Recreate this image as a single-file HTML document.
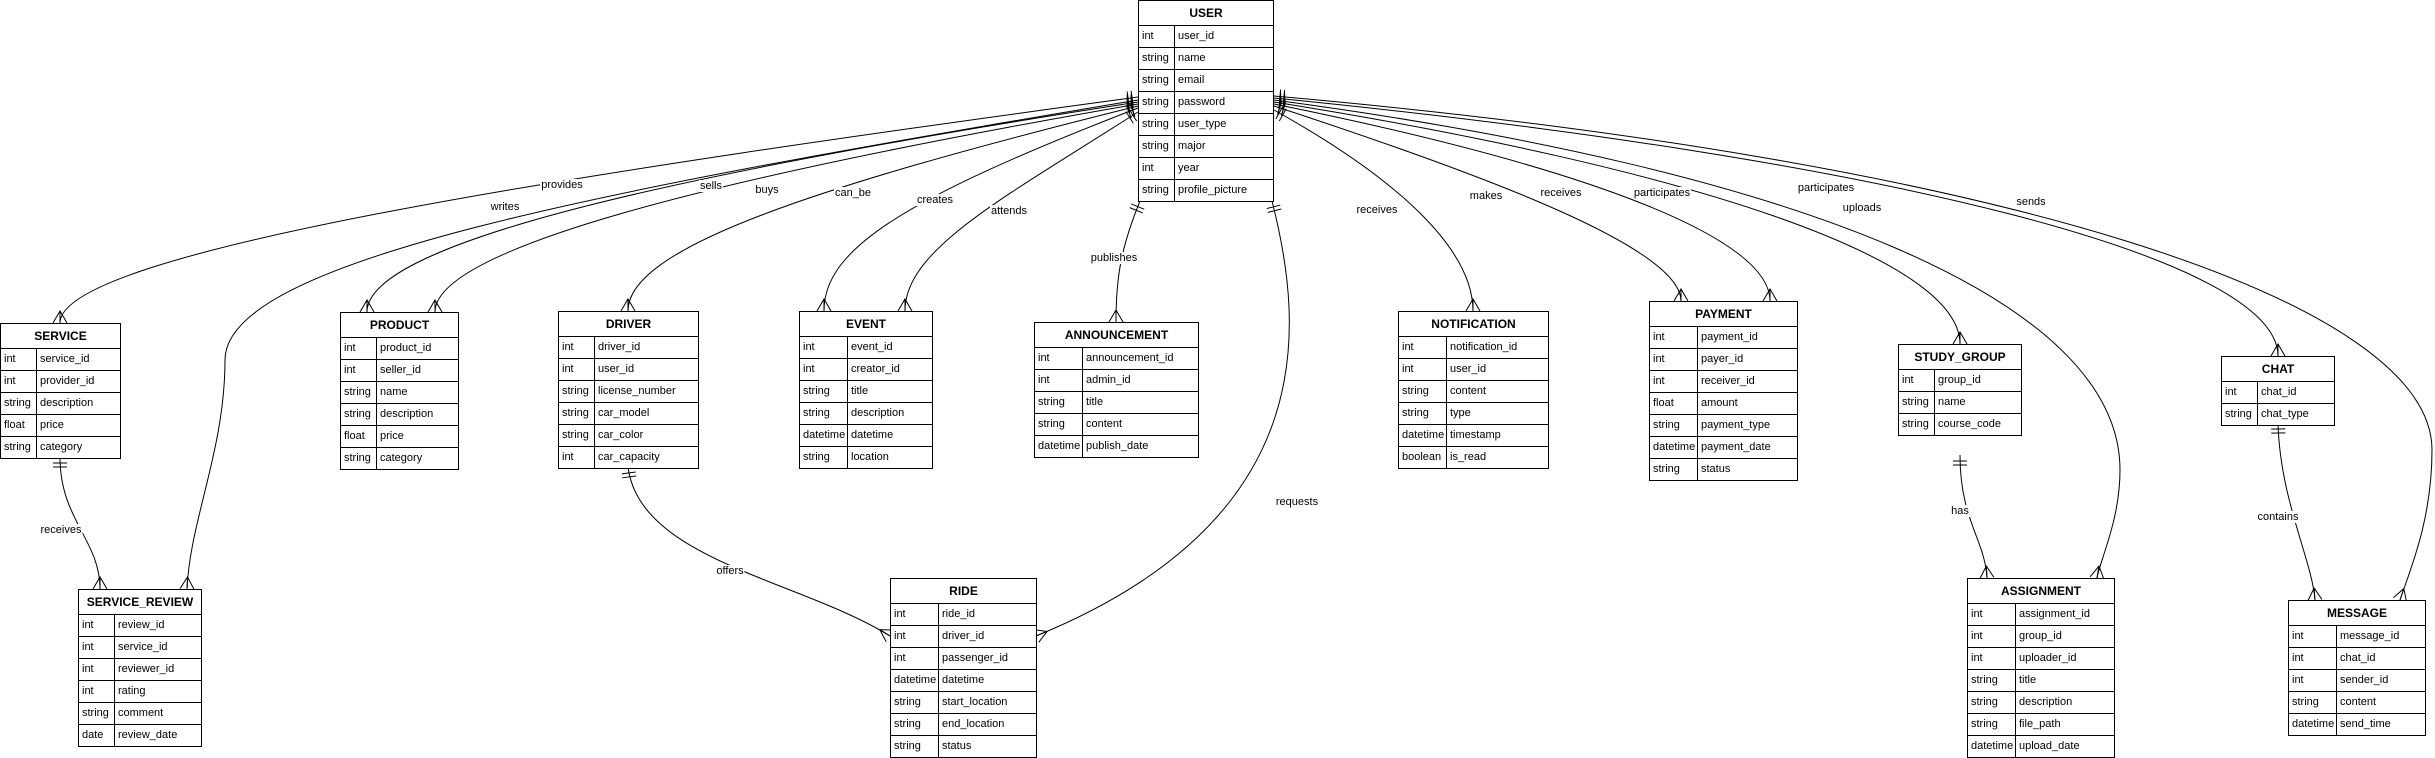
<!DOCTYPE html>
<html><head><meta charset="utf-8"><style>
body{margin:0;width:2435px;height:758px;background:#fff;position:relative;overflow:hidden;font-family:"Liberation Sans",Arial,sans-serif;color:#000}
svg{position:absolute;left:0;top:0}
.t{position:absolute;border:1px solid #000;background:#fff;box-sizing:border-box}
.h{height:24px;line-height:24px;text-align:center;font-weight:bold;font-size:12px;border-bottom:1px solid #000}
.r{height:21px;line-height:21px;border-bottom:1px solid #000;display:flex;font-size:11px;white-space:nowrap}
.r:last-child{border-bottom:none}
.r span{padding-left:3px;overflow:hidden}
.r span:first-child{border-right:1px solid #000;flex:none;box-sizing:border-box}
.a .r span:first-child{width:36px}
.b .r span:first-child{width:48px}
.l{position:absolute;font-size:11px;background:#fff;line-height:12px;transform:translate(-50%,-50%);padding:0 1px}
</style></head><body>
<svg width="2435" height="758" viewBox="0 0 2435 758">
<defs>
<marker id="m" markerUnits="userSpaceOnUse" markerWidth="20" markerHeight="20" viewBox="0 0 20 20" refX="20" refY="10" orient="auto-start-reverse">
<path d="M20,3 L8,10 L20,17 M8,10 L20,10" fill="none" stroke="#000" stroke-width="1"/>
</marker>
<marker id="o" markerUnits="userSpaceOnUse" markerWidth="20" markerHeight="20" viewBox="0 0 20 20" refX="20" refY="10" orient="auto-start-reverse">
<path d="M14,3 L14,17 M10,3 L10,17" fill="none" stroke="#000" stroke-width="1"/>
</marker>
</defs>
<g fill="none" stroke="#000" stroke-width="1">
<path d="M1138,97 C600,170 60,250 60,323" marker-start="url(#o)" marker-end="url(#m)"/>
<path d="M1138,100 C600,190 225,260 225,360 C225,450 190,520 187,589" marker-start="url(#o)" marker-end="url(#m)"/>
<path d="M1138,102 C700,170 367,240 367,312" marker-start="url(#o)" marker-end="url(#m)"/>
<path d="M1138,104 C700,180 435,250 435,312" marker-start="url(#o)" marker-end="url(#m)"/>
<path d="M1138,106 C800,190 628,250 628,311" marker-start="url(#o)" marker-end="url(#m)"/>
<path d="M1138,108 C900,200 824,250 824,311" marker-start="url(#o)" marker-end="url(#m)"/>
<path d="M1138,112 C1000,200 905,250 905,311" marker-start="url(#o)" marker-end="url(#m)"/>
<path d="M1140,201 C1120,250 1116,280 1116,322" marker-start="url(#o)" marker-end="url(#m)"/>
<path d="M1272,201 C1305,330 1320,520 1036,636" marker-start="url(#o)" marker-end="url(#m)"/>
<path d="M628,467 C640,560 800,580 890,636" marker-start="url(#o)" marker-end="url(#m)"/>
<path d="M60,457 C60,520 100,540 100,589" marker-start="url(#o)" marker-end="url(#m)"/>
<path d="M1274,110 C1400,180 1473,250 1473,311" marker-start="url(#o)" marker-end="url(#m)"/>
<path d="M1274,106 C1500,180 1681,250 1681,301" marker-start="url(#o)" marker-end="url(#m)"/>
<path d="M1274,104 C1600,170 1770,240 1770,301" marker-start="url(#o)" marker-end="url(#m)"/>
<path d="M1274,102 C1700,170 1960,260 1960,344" marker-start="url(#o)" marker-end="url(#m)"/>
<path d="M1274,100 C1800,170 2120,300 2120,470 C2120,520 2100,560 2097,578" marker-start="url(#o)" marker-end="url(#m)"/>
<path d="M1274,98 C1900,160 2278,260 2278,356" marker-start="url(#o)" marker-end="url(#m)"/>
<path d="M1274,96 C2000,160 2432,300 2432,450 C2432,520 2410,570 2400,600" marker-start="url(#o)" marker-end="url(#m)"/>
<path d="M1960,455 C1960,520 1985,540 1987,578" marker-start="url(#o)" marker-end="url(#m)"/>
<path d="M2278,423 C2280,500 2312,560 2315,600" marker-start="url(#o)" marker-end="url(#m)"/>
</g>
</svg>

<div class="l" style="left:562px;top:185px">provides</div>
<div class="l" style="left:505px;top:207px">writes</div>
<div class="l" style="left:711px;top:186px">sells</div>
<div class="l" style="left:767px;top:190px">buys</div>
<div class="l" style="left:853px;top:193px">can_be</div>
<div class="l" style="left:935px;top:200px">creates</div>
<div class="l" style="left:1009px;top:211px">attends</div>
<div class="l" style="left:1114px;top:258px">publishes</div>
<div class="l" style="left:1377px;top:210px">receives</div>
<div class="l" style="left:1486px;top:196px">makes</div>
<div class="l" style="left:1561px;top:193px">receives</div>
<div class="l" style="left:1662px;top:193px">participates</div>
<div class="l" style="left:1826px;top:188px">participates</div>
<div class="l" style="left:1862px;top:208px">uploads</div>
<div class="l" style="left:2031px;top:202px">sends</div>
<div class="l" style="left:1297px;top:502px">requests</div>
<div class="l" style="left:730px;top:571px">offers</div>
<div class="l" style="left:61px;top:530px">receives</div>
<div class="l" style="left:1960px;top:511px">has</div>
<div class="l" style="left:2278px;top:517px">contains</div>

<div class="t a" style="left:1138px;top:0;width:136px"><div class="h">USER</div>
<div class="r"><span>int</span><span>user_id</span></div>
<div class="r"><span>string</span><span>name</span></div>
<div class="r"><span>string</span><span>email</span></div>
<div class="r"><span>string</span><span>password</span></div>
<div class="r"><span>string</span><span>user_type</span></div>
<div class="r"><span>string</span><span>major</span></div>
<div class="r"><span>int</span><span>year</span></div>
<div class="r"><span>string</span><span>profile_picture</span></div></div>

<div class="t a" style="left:0;top:323px;width:121px"><div class="h">SERVICE</div>
<div class="r"><span>int</span><span>service_id</span></div>
<div class="r"><span>int</span><span>provider_id</span></div>
<div class="r"><span>string</span><span>description</span></div>
<div class="r"><span>float</span><span>price</span></div>
<div class="r"><span>string</span><span>category</span></div></div>

<div class="t a" style="left:78px;top:589px;width:124px"><div class="h">SERVICE_REVIEW</div>
<div class="r"><span>int</span><span>review_id</span></div>
<div class="r"><span>int</span><span>service_id</span></div>
<div class="r"><span>int</span><span>reviewer_id</span></div>
<div class="r"><span>int</span><span>rating</span></div>
<div class="r"><span>string</span><span>comment</span></div>
<div class="r"><span>date</span><span>review_date</span></div></div>

<div class="t a" style="left:340px;top:312px;width:119px"><div class="h">PRODUCT</div>
<div class="r"><span>int</span><span>product_id</span></div>
<div class="r"><span>int</span><span>seller_id</span></div>
<div class="r"><span>string</span><span>name</span></div>
<div class="r"><span>string</span><span>description</span></div>
<div class="r"><span>float</span><span>price</span></div>
<div class="r"><span>string</span><span>category</span></div></div>

<div class="t a" style="left:558px;top:311px;width:141px"><div class="h">DRIVER</div>
<div class="r"><span>int</span><span>driver_id</span></div>
<div class="r"><span>int</span><span>user_id</span></div>
<div class="r"><span>string</span><span>license_number</span></div>
<div class="r"><span>string</span><span>car_model</span></div>
<div class="r"><span>string</span><span>car_color</span></div>
<div class="r"><span>int</span><span>car_capacity</span></div></div>

<div class="t b" style="left:799px;top:311px;width:134px"><div class="h">EVENT</div>
<div class="r"><span>int</span><span>event_id</span></div>
<div class="r"><span>int</span><span>creator_id</span></div>
<div class="r"><span>string</span><span>title</span></div>
<div class="r"><span>string</span><span>description</span></div>
<div class="r"><span>datetime</span><span>datetime</span></div>
<div class="r"><span>string</span><span>location</span></div></div>

<div class="t b" style="left:1034px;top:322px;width:165px"><div class="h">ANNOUNCEMENT</div>
<div class="r"><span>int</span><span>announcement_id</span></div>
<div class="r"><span>int</span><span>admin_id</span></div>
<div class="r"><span>string</span><span>title</span></div>
<div class="r"><span>string</span><span>content</span></div>
<div class="r"><span>datetime</span><span>publish_date</span></div></div>

<div class="t b" style="left:890px;top:578px;width:147px"><div class="h">RIDE</div>
<div class="r"><span>int</span><span>ride_id</span></div>
<div class="r"><span>int</span><span>driver_id</span></div>
<div class="r"><span>int</span><span>passenger_id</span></div>
<div class="r"><span>datetime</span><span>datetime</span></div>
<div class="r"><span>string</span><span>start_location</span></div>
<div class="r"><span>string</span><span>end_location</span></div>
<div class="r"><span>string</span><span>status</span></div></div>

<div class="t b" style="left:1398px;top:311px;width:151px"><div class="h">NOTIFICATION</div>
<div class="r"><span>int</span><span>notification_id</span></div>
<div class="r"><span>int</span><span>user_id</span></div>
<div class="r"><span>string</span><span>content</span></div>
<div class="r"><span>string</span><span>type</span></div>
<div class="r"><span>datetime</span><span>timestamp</span></div>
<div class="r"><span>boolean</span><span>is_read</span></div></div>

<div class="t b" style="left:1649px;top:301px;width:149px"><div class="h">PAYMENT</div>
<div class="r"><span>int</span><span>payment_id</span></div>
<div class="r"><span>int</span><span>payer_id</span></div>
<div class="r"><span>int</span><span>receiver_id</span></div>
<div class="r"><span>float</span><span>amount</span></div>
<div class="r"><span>string</span><span>payment_type</span></div>
<div class="r"><span>datetime</span><span>payment_date</span></div>
<div class="r"><span>string</span><span>status</span></div></div>

<div class="t a" style="left:1898px;top:344px;width:124px"><div class="h">STUDY_GROUP</div>
<div class="r"><span>int</span><span>group_id</span></div>
<div class="r"><span>string</span><span>name</span></div>
<div class="r"><span>string</span><span>course_code</span></div></div>

<div class="t b" style="left:1967px;top:578px;width:148px"><div class="h">ASSIGNMENT</div>
<div class="r"><span>int</span><span>assignment_id</span></div>
<div class="r"><span>int</span><span>group_id</span></div>
<div class="r"><span>int</span><span>uploader_id</span></div>
<div class="r"><span>string</span><span>title</span></div>
<div class="r"><span>string</span><span>description</span></div>
<div class="r"><span>string</span><span>file_path</span></div>
<div class="r"><span>datetime</span><span>upload_date</span></div></div>

<div class="t a" style="left:2221px;top:356px;width:114px"><div class="h">CHAT</div>
<div class="r"><span>int</span><span>chat_id</span></div>
<div class="r"><span>string</span><span>chat_type</span></div></div>

<div class="t b" style="left:2288px;top:600px;width:138px"><div class="h">MESSAGE</div>
<div class="r"><span>int</span><span>message_id</span></div>
<div class="r"><span>int</span><span>chat_id</span></div>
<div class="r"><span>int</span><span>sender_id</span></div>
<div class="r"><span>string</span><span>content</span></div>
<div class="r"><span>datetime</span><span>send_time</span></div></div>
</body></html>
